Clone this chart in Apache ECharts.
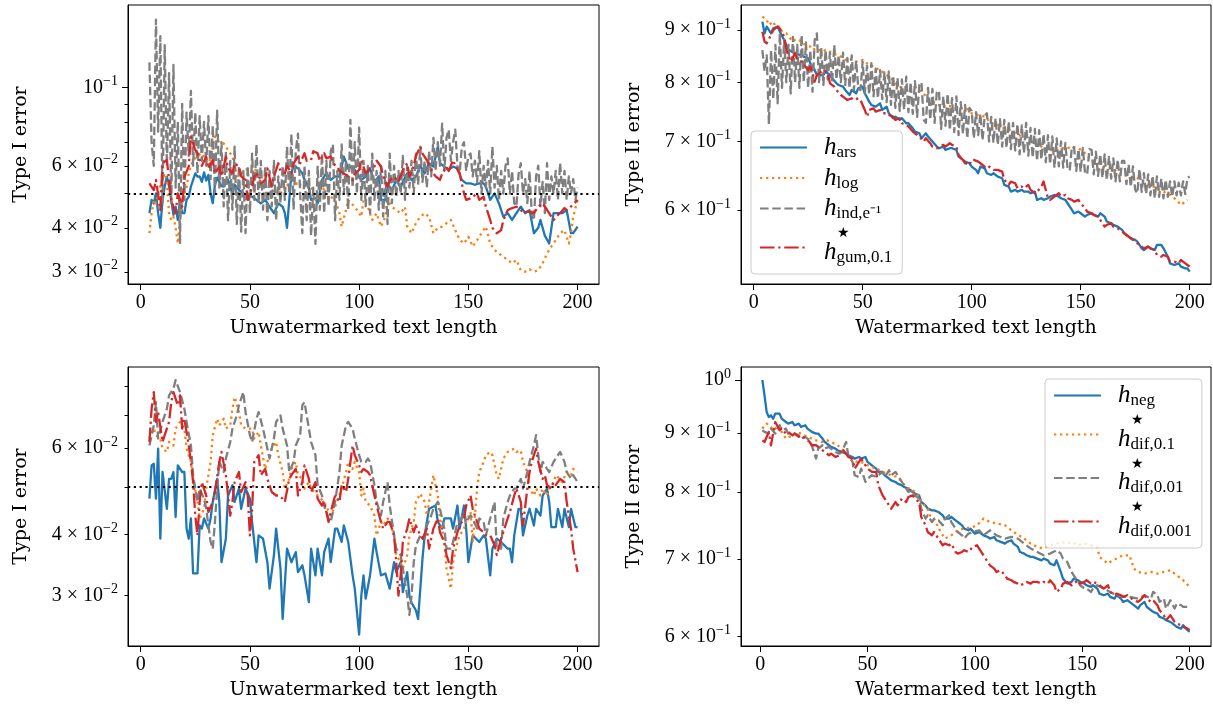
<!DOCTYPE html>
<html><head><meta charset="utf-8">
<script src="https://cdn.jsdelivr.net/npm/echarts@6/dist/echarts.min.js"></script>
<style>html,body{margin:0;padding:0;background:#fff}#c{width:1213px;height:708px}</style>
</head><body><div id="c"></div>
<script>
// ---------------- DATA ----------------
const X_TICKS = [0, 50, 100, 150, 200];
// top-left: Type I error, unwatermarked
const TL_YLABV = [0.03, 0.04, 0.06, 0.1];
const TL_YLAB = ['3 × 10^−2', '4 × 10^−2', '6 × 10^−2', '10^−1'];
const TL_MINOR = [0.03, 0.04, 0.05, 0.06, 0.07, 0.08, 0.09];
const TL_MAJOR = [0.1];
const TL_ARS = [[4,.0440],[5,.0480],[6,.0469],[7,.0501],[8,.0440],[9,.0400],[10,.0480],[11,.0524],[12,.0559],[13,.0524],[14,.0480],[15,.0435],[16,.0459],[17,.0421],[18,.0480],[19,.0440],[20,.0440],[21,.0480],[22,.0490],[23,.0524],[24,.0547],[25,.0571],[26,.0559],[27,.0560],[28,.0540],[29,.0575],[30,.0545],[31,.0565],[32,.0500],[33,.0470],[34,.0530],[35,.0555],[36,.0540],[37,.0525],[38,.0524],[40,.0547],[42,.0500],[43,.0530],[45,.0512],[47,.0501],[49,.0495],[51,.0490],[53,.0480],[55,.0469],[57,.0480],[59,.0459],[61,.0440],[63,.0469],[65,.0459],[66,.0440],[67,.0400],[69,.0571],[70,.0600],[72,.0590],[74,.0571],[75,.0547],[77,.0520],[78,.0480],[80,.0485],[81,.0469],[83,.0547],[85,.0571],[87,.0547],[89,.0560],[91,.0559],[93,.0637],[95,.0590],[97,.0597],[99,.0571],[101,.0547],[103,.0559],[105,.0590],[107,.0540],[109,.0560],[110,.0480],[112,.0480],[113,.0535],[115,.0510],[117,.0547],[119,.0520],[120,.0540],[122,.0571],[124,.0547],[126,.0560],[128,.0600],[130,.0571],[132,.0610],[134,.0597],[136,.0680],[137,.0610],[139,.0597],[141,.0584],[143,.0597],[145,.0590],[147,.0547],[149,.0535],[151,.0535],[153,.0530],[155,.0535],[157,.0535],[158,.0524],[160,.0480],[162,.0501],[164,.0469],[166,.0430],[168,.0440],[170,.0421],[172,.0440],[174,.0459],[176,.0440],[178,.0449],[180,.0386],[182,.0400],[183,.0421],[185,.0380],[187,.0361],[189,.0440],[191,.0440],[193,.0440],[195,.0449],[197,.0386],[198,.0386],[200,.0403]];
const TL_LOG = [[4,.0386],[5,.0440],[6,.0480],[7,.0469],[8,.0500],[9,.0530],[10,.0547],[11,.0571],[12,.0540],[13,.0440],[14,.0421],[15,.0430],[16,.0400],[17,.0361],[18,.0420],[19,.0480],[21,.0520],[22,.0571],[24,.0623],[26,.0640],[28,.0651],[30,.0620],[31,.0597],[33,.0680],[34,.0726],[36,.0700],[38,.0695],[40,.0665],[42,.0637],[44,.0560],[46,.0571],[48,.0585],[50,.0590],[52,.0597],[54,.0547],[56,.0540],[58,.0535],[60,.0520],[62,.0501],[64,.0505],[66,.0512],[68,.0540],[69,.0559],[71,.0540],[72,.0524],[74,.0535],[76,.0547],[78,.0520],[80,.0480],[82,.0510],[83,.0524],[85,.0500],[87,.0490],[89,.0480],[91,.0440],[92,.0403],[94,.0450],[95,.0480],[97,.0465],[98,.0459],[100,.0440],[101,.0430],[102,.0480],[104,.0459],[106,.0421],[108,.0440],[110,.0403],[112,.0430],[113,.0480],[115,.0459],[117,.0449],[119,.0440],[121,.0459],[122,.0403],[124,.0386],[126,.0412],[128,.0430],[130,.0440],[132,.0430],[134,.0386],[136,.0400],[138,.0403],[140,.0412],[142,.0421],[144,.0394],[146,.0370],[148,.0361],[150,.0377],[152,.0354],[154,.0369],[156,.0386],[158,.0403],[160,.0361],[162,.0346],[164,.0338],[166,.0331],[168,.0324],[170,.0317],[172,.0324],[174,.0303],[176,.0300],[178,.0305],[180,.0300],[182,.0303],[184,.0317],[186,.0338],[188,.0354],[190,.0369],[192,.0386],[194,.0394],[196,.0361],[197,.0386],[198,.0430],[200,.0480]];
const TL_IND_X0 = 4;
const TL_IND = [.118,.070,.060,.156,.075,.140,.047,.132,.060,.110,
.047,.116,.052,.080,.036,.090,.048,.085,.064,.098,
.060,.085,.057,.083,.062,.080,.060,.083,.055,.078,
.050,.086,.052,.070,.046,.066,.042,.062,.045,.068,
.041,.060,.039,.058,.0386,.060,.044,.065,.048,.069,
.047,.062,.045,.060,.042,.058,.046,.062,.042,.056,
.047,.060,.048,.068,.050,.074,.045,.066,.074,.050,
.0386,.060,.042,.058,.038,.052,.036,.060,.045,.065,
.044,.062,.046,.066,.069,.042,.058,.048,.069,.050,
.062,.045,.081,.052,.070,.050,.077,.048,.062,.046,
.060,.044,.065,.048,.058,.045,.060,.043,.058,.041,
.065,.047,.060,.049,.058,.050,.064,.048,.060,.052,
.062,.050,.065,.053,.068,.054,.062,.052,.066,.056,
.072,.058,.070,.060,.079,.058,.072,.076,.062,.070,
.076,.060,.057,.068,.070,.058,.064,.065,.056,.062,
.054,.066,.050,.060,.052,.062,.050,.068,.052,.060,
.048,.058,.050,.060,.063,.050,.058,.047,.046,.057,
.061,.050,.055,.047,.058,.044,.042,.056,.060,.046,
.054,.044,.061,.048,.056,.050,.058,.048,.061,.050,
.058,.048,.056,.050,.055,.048,.052];
const TL_GUM = [[4,.0535],[6,.0512],[7,.0547],[9,.0449],[10,.0610],[12,.0623],[14,.0480],[16,.0440],[17,.0501],[19,.0459],[20,.0559],[22,.0597],[23,.0726],[25,.0665],[26,.0651],[28,.0600],[30,.0637],[31,.0590],[33,.0623],[34,.0571],[36,.0597],[37,.0560],[39,.0637],[40,.0590],[42,.0571],[43,.0610],[45,.0597],[46,.0560],[48,.0547],[49,.0480],[51,.0524],[52,.0560],[54,.0571],[55,.0535],[57,.0547],[58,.0590],[60,.0524],[61,.0560],[63,.0610],[64,.0580],[66,.0571],[67,.0600],[69,.0571],[70,.0610],[72,.0637],[73,.0610],[75,.0651],[76,.0620],[78,.0623],[79,.0660],[81,.0651],[82,.0620],[84,.0651],[85,.0630],[87,.0637],[88,.0610],[90,.0597],[91,.0580],[93,.0571],[95,.0560],[97,.0547],[98,.0570],[100,.0584],[101,.0623],[103,.0571],[105,.0590],[107,.0597],[108,.0620],[110,.0597],[111,.0560],[113,.0524],[114,.0545],[116,.0559],[118,.0540],[120,.0584],[122,.0610],[123,.0559],[125,.0600],[126,.0640],[128,.0680],[129,.0650],[131,.0623],[132,.0600],[134,.0571],[135,.0560],[137,.0547],[138,.0570],[140,.0597],[141,.0580],[143,.0623],[144,.0600],[146,.0571],[148,.0501],[149,.0480],[151,.0485],[152,.0490],[154,.0500],[155,.0480],[157,.0490],[158,.0460],[160,.0421],[161,.0400],[163,.0386],[165,.0394],[166,.0420],[168,.0449],[170,.0455],[172,.0459],[174,.0450],[175,.0440],[177,.0445],[180,.0440],[182,.0460],[184,.0469],[186,.0450],[189,.0421],[191,.0435],[192,.0440],[194,.0455],[195,.0449],[197,.0460],[200,.0480]];

// top-right: Type II error, watermarked
const TR_YLABV = [0.6, 0.7, 0.8, 0.9];
const TR_YLAB = ['6 × 10^−1', '7 × 10^−1', '8 × 10^−1', '9 × 10^−1'];
const TR_MINOR = [0.6, 0.7, 0.8, 0.9];
const TR_MAJOR = [];
const TR_ARS = [[4,.9171],[5,.8932],[6,.9067],[8,.8932],[9,.9034],[11,.9067],[12,.8966],[14,.8800],[16,.8605],[19,.8540],[21,.8508],[23,.8476],[25,.8444],[26,.8349],[28,.8225],[29,.8132],[32,.8132],[33,.8194],[35,.8132],[36,.8071],[38,.7981],[39,.7951],[41,.7921],[42,.7862],[44,.7774],[45,.7862],[47,.7803],[48,.7891],[50,.7921],[51,.7803],[53,.7658],[54,.7601],[56,.7572],[58,.7629],[59,.7516],[61,.7572],[62,.7460],[64,.7376],[65,.7404],[67,.7349],[68,.7376],[70,.7294],[71,.7294],[73,.7212],[74,.7158],[76,.7131],[77,.7052],[79,.7131],[80,.7078],[82,.6999],[84,.6921],[85,.6895],[87,.6921],[88,.6869],[90,.6895],[91,.6895],[93,.6869],[94,.6766],[96,.6716],[97,.6690],[99,.6665],[100,.6615],[102,.6566],[103,.6517],[104,.6615],[106,.6590],[107,.6517],[109,.6492],[110,.6517],[112,.6468],[114,.6444],[115,.6348],[117,.6324],[118,.6253],[120,.6277],[121,.6253],[123,.6277],[124,.6253],[126,.6253],[127,.6230],[129,.6253],[130,.6137],[132,.6160],[133,.6137],[135,.6160],[136,.6183],[138,.6206],[140,.6183],[141,.6160],[143,.6137],[144,.6091],[146,.6000],[147,.5955],[149,.5977],[150,.5955],[152,.5911],[153,.5933],[155,.5955],[156,.5933],[158,.5911],[159,.5955],[161,.5911],[162,.5845],[164,.5823],[165,.5801],[167,.5779],[169,.5736],[170,.5693],[172,.5650],[173,.5629],[175,.5608],[176,.5587],[178,.5503],[179,.5482],[181,.5524],[182,.5503],[184,.5482],[185,.5545],[187,.5545],[188,.5503],[190,.5400],[191,.5320],[193,.5300],[195,.5320],[196,.5280],[198,.5260],[199,.5260],[200,.5221]];
const TR_LOG = [[4,.9275],[6,.9206],[7,.9102],[9,.9171],[10,.9067],[12,.9067],[13,.8966],[15,.8932],[16,.8866],[18,.8767],[19,.8800],[21,.8800],[22,.8735],[24,.8702],[26,.8670],[27,.8605],[29,.8637],[30,.8605],[32,.8572],[33,.8605],[35,.8572],[36,.8540],[38,.8508],[39,.8508],[41,.8444],[42,.8412],[44,.8444],[45,.8412],[47,.8381],[48,.8381],[50,.8412],[52,.8349],[53,.8318],[55,.8287],[56,.8256],[58,.8225],[59,.8194],[61,.8132],[62,.8102],[64,.8041],[65,.7981],[67,.7921],[68,.7891],[70,.7921],[71,.7891],[73,.7951],[74,.7921],[76,.7862],[78,.7803],[79,.7745],[81,.7687],[82,.7658],[84,.7629],[85,.7601],[87,.7572],[88,.7601],[91,.7572],[94,.7544],[97,.7544],[99,.7516],[100,.7460],[103,.7432],[106,.7404],[109,.7294],[112,.7267],[115,.7212],[117,.7185],[120,.7131],[123,.7078],[126,.7025],[129,.6973],[132,.6921],[135,.6843],[138,.6895],[141,.6895],[144,.6895],[146,.6921],[149,.6895],[152,.6817],[155,.6716],[158,.6665],[161,.6615],[164,.6590],[167,.6541],[170,.6492],[173,.6468],[176,.6444],[179,.6396],[182,.6348],[185,.6300],[188,.6253],[191,.6206],[194,.6137],[196,.6068],[197,.6091],[199,.6137]];
const TR_IND_X0 = 4;
const TR_IND = [.860,.820,.850,.728,.860,.770,.870,.763,.893,.790,
.880,.800,.870,.780,.886,.800,.870,.790,.890,.800,
.875,.790,.860,.783,.880,.893,.800,.865,.795,.860,
.805,.855,.800,.870,.805,.850,.800,.855,.795,.845,
.790,.850,.786,.840,.790,.786,.838,.780,.830,.778,
.835,.775,.825,.772,.822,.770,.818,.765,.820,.760,
.812,.755,.808,.750,.805,.752,.810,.748,.800,.745,
.802,.740,.795,.800,.735,.730,.790,.735,.788,.730,
.782,.785,.720,.775,.725,.780,.718,.772,.715,.775,
.710,.765,.712,.760,.705,.755,.750,.705,.748,.710,
.745,.702,.742,.746,.700,.740,.698,.738,.695,.736,
.692,.735,.690,.732,.688,.730,.686,.728,.680,.726,
.682,.730,.678,.722,.675,.720,.670,.718,.672,.712,
.668,.710,.665,.708,.660,.705,.662,.700,.660,.698,
.658,.656,.692,.690,.655,.688,.654,.690,.652,.650,
.688,.687,.650,.684,.648,.680,.645,.680,.642,.676,
.644,.674,.640,.672,.640,.670,.670,.636,.665,.632,
.662,.628,.623,.658,.625,.652,.622,.650,.620,.648,
.616,.647,.618,.644,.616,.642,.618,.640,.618,.640,
.620,.638,.620,.640,.622,.645,.647];
const TR_GUM = [[4,.8966],[5,.8767],[6,.8735],[8,.8899],[9,.9000],[11,.9067],[12,.9034],[14,.8866],[15,.8605],[17,.8381],[19,.8540],[20,.8412],[22,.8381],[23,.8318],[25,.8225],[26,.8287],[28,.8011],[29,.8132],[31,.8194],[32,.8225],[34,.8163],[35,.7981],[37,.7921],[38,.7862],[40,.7774],[42,.7716],[43,.7687],[45,.7716],[46,.7687],[48,.7716],[49,.7687],[51,.7516],[52,.7404],[53,.7516],[55,.7544],[56,.7488],[58,.7516],[59,.7460],[61,.7460],[62,.7432],[64,.7404],[65,.7349],[67,.7376],[68,.7294],[70,.7267],[71,.7240],[73,.7158],[74,.7131],[76,.7078],[78,.6999],[79,.7052],[81,.6973],[82,.6921],[84,.6895],[85,.6921],[87,.6947],[88,.6921],[90,.6973],[91,.6947],[93,.6921],[94,.6792],[96,.6716],[97,.6665],[99,.6640],[100,.6716],[101,.6716],[103,.6690],[104,.6665],[106,.6615],[107,.6640],[109,.6590],[110,.6566],[112,.6566],[114,.6541],[115,.6420],[117,.6348],[118,.6396],[120,.6372],[121,.6300],[123,.6324],[124,.6300],[126,.6348],[127,.6277],[129,.6230],[130,.6253],[132,.6324],[133,.6396],[135,.6160],[136,.6137],[138,.6183],[140,.6230],[141,.6183],[143,.6206],[144,.6160],[146,.6137],[147,.6114],[149,.6137],[150,.6091],[152,.6023],[153,.5977],[155,.5955],[156,.5933],[158,.5911],[159,.5867],[161,.5779],[162,.5801],[164,.5823],[165,.5779],[167,.5757],[169,.5714],[170,.5693],[172,.5650],[173,.5629],[175,.5587],[176,.5566],[178,.5524],[179,.5503],[181,.5524],[182,.5503],[184,.5482],[185,.5421],[187,.5400],[188,.5421],[190,.5400],[191,.5340],[193,.5340],[195,.5320],[196,.5360],[198,.5320],[199,.5300],[200,.5280]];

// bottom-left: Type I error, unwatermarked
const BL_YLABV = [0.03, 0.04, 0.06];
const BL_YLAB = ['3 × 10^−2', '4 × 10^−2', '6 × 10^−2'];
const BL_MINOR = [0.03, 0.04, 0.05, 0.06, 0.07, 0.08];
const BL_MAJOR = [];
const BL_NEG = [[4,.0473],[5,.0553],[6,.0557],[7,.0473],[8,.0598],[9,.0392],[10,.0536],[12,.0451],[13,.0519],[14,.0519],[15,.0536],[16,.0434],[17,.0553],[19,.0536],[20,.0536],[21,.0411],[22,.0392],[23,.0431],[24,.0333],[26,.0333],[27,.0417],[28,.0411],[29,.0431],[31,.0411],[32,.0431],[33,.0466],[35,.0519],[36,.0466],[37,.0351],[39,.0392],[40,.0480],[42,.0504],[43,.0466],[45,.0496],[46,.0451],[48,.0496],[50,.0473],[51,.0424],[53,.0351],[54,.0398],[56,.0392],[58,.0351],[59,.0310],[61,.0363],[62,.0411],[64,.0341],[65,.0269],[67,.0374],[69,.0351],[71,.0368],[72,.0335],[74,.0346],[75,.0330],[77,.0291],[78,.0374],[80,.0330],[81,.0374],[83,.0330],[84,.0368],[86,.0392],[87,.0351],[89,.0411],[90,.0411],[92,.0386],[93,.0417],[95,.0386],[97,.0330],[98,.0310],[100,.0250],[101,.0300],[102,.0330],[103,.0296],[105,.0330],[107,.0392],[108,.0368],[110,.0330],[112,.0333],[114,.0310],[116,.0351],[117,.0335],[119,.0351],[120,.0305],[122,.0335],[123,.0300],[124,.0290],[126,.0280],[127,.0269],[129,.0357],[130,.0398],[132,.0451],[135,.0458],[136,.0424],[138,.0411],[139,.0431],[142,.0431],[143,.0411],[145,.0458],[146,.0411],[148,.0458],[149,.0411],[150,.0351],[152,.0398],[155,.0386],[157,.0398],[158,.0392],[160,.0330],[161,.0374],[163,.0392],[165,.0386],[168,.0374],[169,.0374],[170,.0351],[171,.0398],[173,.0451],[174,.0451],[175,.0398],[177,.0437],[178,.0451],[180,.0417],[181,.0451],[183,.0437],[184,.0480],[186,.0496],[187,.0466],[188,.0414],[190,.0414],[191,.0451],[193,.0414],[194,.0451],[196,.0414],[197,.0451],[199,.0414],[200,.0414]];
const BL_DIF1 = [[4,.0627],[6,.0657],[7,.0637],[9,.0627],[10,.0598],[12,.0589],[13,.0617],[15,.0607],[16,.0657],[18,.0678],[20,.0657],[21,.0598],[23,.0562],[24,.0519],[26,.0466],[27,.0431],[29,.0451],[30,.0496],[32,.0562],[33,.0637],[35,.0688],[36,.0667],[38,.0688],[39,.0657],[41,.0667],[42,.0721],[43,.0762],[45,.0710],[46,.0667],[48,.0657],[49,.0657],[51,.0657],[52,.0627],[54,.0647],[55,.0607],[57,.0544],[58,.0562],[60,.0598],[62,.0617],[63,.0580],[65,.0536],[66,.0496],[68,.0519],[69,.0544],[71,.0562],[72,.0528],[74,.0519],[75,.0496],[77,.0511],[78,.0496],[81,.0480],[84,.0466],[87,.0437],[90,.0466],[92,.0496],[94,.0536],[95,.0562],[97,.0544],[98,.0562],[100,.0536],[101,.0480],[102,.0496],[103,.0466],[105,.0458],[107,.0437],[108,.0398],[110,.0424],[111,.0417],[113,.0431],[114,.0424],[116,.0398],[117,.0363],[119,.0351],[120,.0341],[122,.0363],[123,.0398],[125,.0424],[126,.0466],[128,.0484],[130,.0466],[131,.0437],[133,.0496],[134,.0528],[136,.0480],[137,.0431],[139,.0386],[140,.0341],[142,.0310],[143,.0351],[145,.0386],[146,.0398],[148,.0411],[149,.0424],[151,.0444],[152,.0386],[154,.0496],[155,.0536],[157,.0562],[158,.0580],[160,.0589],[161,.0580],[163,.0528],[164,.0519],[166,.0571],[168,.0589],[169,.0593],[171,.0598],[172,.0589],[174,.0593],[175,.0562],[177,.0536],[178,.0496],[180,.0480],[181,.0496],[183,.0480],[184,.0496],[186,.0480],[187,.0496],[189,.0511],[190,.0528],[192,.0519],[193,.0511],[195,.0536],[197,.0528],[198,.0544],[200,.0536]];
const BL_DIF2 = [[4,.0607],[6,.0667],[7,.0744],[8,.0627],[10,.0678],[12,.0721],[13,.0768],[15,.0793],[16,.0825],[18,.0780],[20,.0721],[21,.0678],[23,.0607],[24,.0528],[26,.0466],[27,.0496],[29,.0473],[30,.0451],[32,.0386],[33,.0374],[34,.0424],[35,.0496],[36,.0562],[38,.0536],[39,.0571],[41,.0617],[42,.0657],[44,.0699],[45,.0733],[47,.0780],[48,.0710],[50,.0637],[51,.0617],[53,.0688],[54,.0710],[56,.0657],[58,.0598],[59,.0571],[61,.0627],[62,.0678],[64,.0699],[65,.0657],[67,.0607],[68,.0536],[70,.0562],[71,.0607],[73,.0637],[74,.0733],[75,.0744],[77,.0657],[78,.0617],[80,.0580],[81,.0504],[83,.0480],[84,.0458],[86,.0431],[87,.0424],[89,.0466],[91,.0536],[92,.0607],[94,.0667],[95,.0678],[97,.0657],[98,.0627],[100,.0580],[101,.0562],[103,.0562],[104,.0571],[105,.0562],[107,.0504],[108,.0466],[110,.0437],[111,.0466],[113,.0511],[114,.0458],[116,.0398],[117,.0374],[119,.0363],[120,.0341],[122,.0300],[123,.0274],[124,.0300],[125,.0351],[126,.0380],[128,.0398],[130,.0392],[131,.0417],[133,.0437],[134,.0451],[136,.0466],[137,.0451],[139,.0411],[140,.0374],[142,.0374],[143,.0386],[145,.0424],[146,.0424],[148,.0444],[149,.0424],[151,.0437],[152,.0431],[154,.0411],[155,.0431],[157,.0424],[158,.0398],[160,.0431],[162,.0466],[163,.0374],[165,.0374],[166,.0431],[168,.0466],[169,.0480],[171,.0496],[172,.0496],[174,.0519],[175,.0496],[177,.0536],[178,.0562],[180,.0607],[181,.0637],[182,.0580],[183,.0536],[184,.0562],[186,.0544],[187,.0536],[189,.0562],[190,.0571],[192,.0589],[194,.0562],[195,.0536],[197,.0519],[198,.0528],[200,.0511]];
const BL_DIF3 = [[4,.0617],[5,.0721],[6,.0780],[7,.0678],[8,.0710],[10,.0617],[11,.0637],[13,.0678],[14,.0744],[15,.0780],[17,.0733],[18,.0768],[19,.0657],[20,.0688],[22,.0607],[23,.0562],[24,.0511],[25,.0437],[26,.0398],[27,.0466],[28,.0511],[30,.0480],[31,.0444],[33,.0466],[34,.0488],[36,.0562],[37,.0589],[39,.0528],[40,.0480],[41,.0437],[42,.0466],[43,.0511],[45,.0536],[46,.0488],[48,.0511],[49,.0480],[50,.0398],[51,.0451],[52,.0562],[54,.0580],[55,.0528],[57,.0544],[58,.0519],[60,.0488],[62,.0480],[63,.0480],[65,.0473],[66,.0466],[68,.0519],[69,.0528],[71,.0544],[72,.0480],[74,.0511],[75,.0553],[77,.0519],[78,.0488],[80,.0511],[81,.0473],[83,.0458],[84,.0466],[86,.0424],[87,.0444],[89,.0480],[91,.0466],[92,.0504],[94,.0488],[95,.0519],[97,.0607],[98,.0580],[100,.0553],[101,.0536],[102,.0544],[104,.0536],[105,.0528],[107,.0480],[108,.0458],[110,.0424],[111,.0411],[113,.0424],[114,.0424],[116,.0398],[117,.0351],[118,.0300],[119,.0330],[120,.0386],[122,.0411],[123,.0431],[125,.0404],[126,.0417],[128,.0398],[129,.0392],[131,.0411],[132,.0374],[134,.0411],[136,.0431],[137,.0404],[139,.0386],[140,.0363],[142,.0341],[143,.0374],[145,.0404],[146,.0417],[148,.0431],[149,.0458],[151,.0480],[152,.0451],[154,.0424],[155,.0411],[157,.0404],[158,.0398],[160,.0398],[162,.0380],[163,.0363],[165,.0392],[166,.0404],[168,.0431],[169,.0444],[171,.0480],[172,.0496],[174,.0466],[175,.0417],[177,.0496],[178,.0536],[179,.0562],[181,.0598],[182,.0562],[184,.0519],[185,.0528],[186,.0504],[188,.0496],[189,.0511],[190,.0504],[192,.0519],[194,.0511],[195,.0466],[197,.0411],[198,.0374],[200,.0335]];

// bottom-right: Type II error, watermarked
const BR_YLABV = [0.6, 0.7, 0.8, 0.9, 1];
const BR_YLAB = ['6 × 10^−1', '7 × 10^−1', '8 × 10^−1', '9 × 10^−1', '10^0'];
const BR_MINOR = [0.6, 0.7, 0.8, 0.9];
const BR_MAJOR = [1];
const BR_NEG = [[1,1.000],[2,.9700],[3,.9383],[4,.9290],[5,.9321],[6,.9259],[7,.9352],[9,.9352],[10,.9259],[12,.9198],[13,.9168],[15,.9198],[16,.9138],[18,.9168],[19,.9108],[21,.9138],[22,.9078],[24,.9018],[26,.8988],[27,.8988],[29,.8899],[30,.8840],[32,.8782],[33,.8753],[35,.8724],[36,.8695],[38,.8666],[40,.8637],[41,.8609],[43,.8580],[44,.8552],[46,.8580],[47,.8552],[49,.8580],[50,.8495],[52,.8439],[54,.8383],[55,.8328],[57,.8328],[58,.8273],[60,.8218],[61,.8190],[63,.8163],[64,.8136],[66,.8109],[67,.8082],[69,.8056],[71,.8002],[72,.7976],[74,.7949],[75,.7844],[77,.7793],[78,.7741],[80,.7715],[81,.7715],[83,.7690],[85,.7639],[86,.7589],[88,.7589],[89,.7614],[91,.7564],[92,.7538],[94,.7489],[95,.7439],[97,.7415],[98,.7439],[100,.7366],[102,.7390],[104,.7341],[106,.7317],[107,.7293],[109,.7317],[110,.7269],[112,.7245],[114,.7221],[115,.7245],[117,.7269],[118,.7221],[120,.7174],[121,.7102],[123,.7079],[124,.7055],[126,.7032],[127,.7032],[129,.7009],[131,.6985],[132,.7009],[134,.6985],[135,.6939],[137,.6916],[138,.6985],[140,.6825],[141,.6735],[143,.6669],[145,.6691],[146,.6735],[148,.6713],[149,.6691],[151,.6669],[152,.6647],[154,.6625],[155,.6647],[157,.6603],[158,.6537],[160,.6516],[162,.6537],[163,.6494],[165,.6473],[166,.6516],[168,.6473],[169,.6430],[171,.6452],[172,.6430],[174,.6388],[176,.6345],[177,.6388],[179,.6430],[180,.6367],[182,.6324],[183,.6304],[185,.6283],[186,.6241],[188,.6221],[189,.6200],[191,.6180],[193,.6139],[194,.6118],[196,.6098],[197,.6139],[199,.6078],[200,.6058]];
const BR_DIF1 = [[1,.9078],[2,.9138],[3,.9168],[5,.9108],[6,.9048],[9,.9138],[10,.9018],[12,.8899],[15,.8958],[17,.9018],[19,.8988],[22,.8929],[24,.8899],[26,.8869],[29,.8840],[31,.8869],[33,.8840],[36,.8782],[38,.8724],[40,.8637],[43,.8552],[45,.8495],[47,.8495],[50,.8439],[52,.8411],[54,.8383],[57,.8328],[59,.8300],[61,.8273],[64,.8245],[66,.8163],[68,.8082],[71,.8029],[73,.7976],[75,.7844],[78,.7741],[79,.7639],[81,.7589],[84,.7390],[86,.7293],[89,.7341],[92,.7415],[95,.7439],[99,.7464],[101,.7489],[104,.7589],[107,.7538],[114,.7489],[118,.7390],[123,.7293],[126,.7221],[129,.7174],[132,.7150],[135,.7197],[138,.7221],[140,.7245],[143,.7221],[145,.7245],[148,.7197],[151,.7221],[154,.7197],[157,.7174],[158,.7032],[160,.6985],[162,.6939],[163,.6962],[166,.7009],[169,.7055],[172,.7055],[174,.6871],[176,.6825],[179,.6803],[182,.6825],[185,.6803],[188,.6825],[191,.6848],[194,.6780],[197,.6713],[200,.6625]];
const BR_DIF2 = [[1,.9048],[2,.9018],[4,.8988],[5,.9078],[7,.8988],[9,.9138],[10,.9048],[12,.9078],[13,.8988],[15,.8958],[16,.8988],[18,.8958],[19,.8899],[21,.8929],[23,.8869],[24,.8782],[26,.8552],[27,.8724],[29,.8782],[30,.8724],[32,.8753],[33,.8724],[35,.8666],[37,.8637],[38,.8666],[40,.8840],[41,.8609],[43,.8495],[44,.8273],[46,.8245],[47,.8383],[49,.8163],[50,.8218],[52,.8273],[54,.8245],[55,.8273],[57,.8328],[58,.8245],[60,.8355],[61,.8273],[63,.8328],[64,.8273],[66,.8163],[68,.8056],[69,.8002],[71,.8029],[72,.7949],[74,.7897],[75,.7741],[77,.7589],[78,.7639],[80,.7538],[81,.7589],[83,.7564],[85,.7489],[86,.7589],[88,.7639],[89,.7538],[91,.7439],[92,.7390],[94,.7341],[95,.7293],[97,.7366],[99,.7390],[102,.7415],[104,.7341],[107,.7415],[110,.7341],[114,.7293],[117,.7317],[120,.7293],[123,.7221],[126,.7150],[129,.7102],[132,.7055],[135,.7079],[138,.7126],[140,.7079],[141,.7009],[143,.6962],[145,.6825],[146,.6780],[148,.6691],[149,.6647],[151,.6603],[152,.6603],[154,.6559],[155,.6603],[157,.6647],[160,.6603],[163,.6559],[166,.6516],[169,.6494],[172,.6494],[176,.6473],[179,.6516],[182,.6473],[183,.6559],[185,.6516],[186,.6430],[188,.6473],[189,.6345],[191,.6452],[193,.6345],[194,.6409],[196,.6388],[197,.6367],[200,.6367]];
const BR_DIF3 = [[1,.8869],[2,.8840],[4,.9018],[5,.8782],[7,.9198],[9,.9048],[10,.9078],[12,.8988],[13,.9018],[15,.8958],[16,.8988],[18,.8929],[19,.8958],[21,.8899],[23,.8840],[24,.8782],[26,.8782],[27,.8753],[29,.8695],[30,.8666],[32,.8609],[33,.8637],[35,.8580],[37,.8609],[38,.8724],[40,.8637],[41,.8580],[43,.8552],[44,.8383],[46,.8495],[47,.8552],[49,.8439],[50,.8383],[52,.8328],[54,.8328],[55,.8109],[57,.7949],[58,.7897],[60,.7793],[61,.7741],[63,.7844],[64,.7793],[66,.7897],[68,.7844],[69,.7923],[71,.7949],[72,.7897],[74,.7844],[75,.7614],[77,.7489],[78,.7390],[80,.7341],[81,.7390],[83,.7293],[85,.7197],[86,.7221],[88,.7197],[89,.7221],[91,.7102],[92,.7079],[94,.7102],[95,.7126],[97,.7102],[99,.7174],[101,.7197],[104,.7055],[107,.6916],[109,.6871],[110,.6825],[112,.6848],[114,.6780],[115,.6735],[117,.6713],[118,.6691],[120,.6669],[121,.6647],[123,.6669],[124,.6691],[126,.6669],[127,.6691],[129,.6691],[131,.6669],[132,.6691],[134,.6669],[135,.6713],[137,.6647],[138,.6559],[140,.6603],[141,.6669],[143,.6691],[145,.6647],[146,.6669],[148,.6713],[149,.6669],[151,.6691],[152,.6713],[154,.6669],[155,.6691],[157,.6669],[158,.6647],[160,.6603],[162,.6647],[163,.6559],[165,.6516],[166,.6537],[168,.6516],[169,.6494],[171,.6516],[172,.6494],[174,.6452],[176,.6430],[177,.6452],[179,.6516],[180,.6473],[182,.6430],[183,.6452],[185,.6388],[186,.6324],[188,.6262],[189,.6200],[191,.6262],[193,.6180],[194,.6159],[196,.6139],[197,.6118],[199,.6098],[200,.6078]];

const ALPHA_LEVEL = 0.05;

// ---------------- STYLE / LAYOUT ----------------
const L10 = Math.log10;
const TICK_FONT = 'Liberation Serif';
const TITLE_FONT = 'DejaVu Serif';
const COL = { blue: '#1f77b4', orange: '#ff7f0e', gray: '#7f7f7f', red: '#d62728' };
const DASH = { solid: 'solid', dotted: [2.3, 3.7], dashed: [8.5, 3.7], dashdot: [14.5, 3.7, 2.3, 3.7] };

const panels = [
  { grid: { left: 128, top: 5, width: 471, height: 279 }, xr: [-5.8, 209.8], yr: [0.02769, 0.17177],
    xname: 'Unwatermarked text length', yname: 'Type I error', labv: TL_YLABV, lab: TL_YLAB, minor: TL_MINOR, major: TL_MAJOR },
  { grid: { left: 741, top: 5, width: 470, height: 279 }, xr: [-5.8, 209.8], yr: [0.50778, 0.95210],
    xname: 'Watermarked text length', yname: 'Type II error', labv: TR_YLABV, lab: TR_YLAB, minor: TR_MINOR, major: TR_MAJOR },
  { grid: { left: 128, top: 367, width: 471, height: 279 }, xr: [-5.8, 209.8], yr: [0.02369, 0.08773],
    xname: 'Unwatermarked text length', yname: 'Type I error', labv: BL_YLABV, lab: BL_YLAB, minor: BL_MINOR, major: BL_MAJOR },
  { grid: { left: 741, top: 367, width: 470, height: 279 }, xr: [-8.95, 209.95], yr: [0.58899, 1.02621],
    xname: 'Watermarked text length', yname: 'Type II error', labv: BR_YLABV, lab: BR_YLAB, minor: BR_MINOR, major: BR_MAJOR }
];

const RICH_TICK = {
  b: { fontFamily: TICK_FONT, fontSize: 20, color: '#000', lineHeight: 26 },
  s: { fontFamily: TICK_FONT, fontSize: 14, color: '#000', lineHeight: 15, verticalAlign: 'top' }
};
function fmtY(p, v) {
  let best = 0, bd = Infinity;
  p.labv.forEach((lv, i) => { const d = Math.abs(L10(lv) - v); if (d < bd) { bd = d; best = i; } });
  const parts = p.lab[best].split('^');
  return '{b|' + parts[0] + '}{s|' + parts[1] + '}';
}

const grids = panels.map(p => Object.assign({ show: true, borderColor: '#000', borderWidth: 1, containLabel: false }, p.grid));
const xAxes = panels.map((p, gi) => ({
  type: 'value', gridIndex: gi, min: p.xr[0], max: p.xr[1], position: 'bottom',
  name: p.xname, nameLocation: 'middle', nameGap: 35,
  nameTextStyle: { fontFamily: TITLE_FONT, fontSize: 19, color: '#000' },
  axisLine: { show: true, onZero: false, lineStyle: { color: '#000', width: 1 } },
  axisTick: { show: true, length: 6, lineStyle: { color: '#000', width: 1 }, customValues: X_TICKS },
  axisLabel: { show: true, margin: 9, customValues: X_TICKS, fontFamily: TICK_FONT, fontSize: 20, color: '#000' },
  splitLine: { show: false }
}));
const yAxes = [];
panels.forEach((p, gi) => {
  yAxes.push({
    type: 'value', gridIndex: gi, min: L10(p.yr[0]), max: L10(p.yr[1]), position: 'left',
    name: p.yname, nameLocation: 'middle', nameRotate: 90, nameGap: 97,
    nameTextStyle: { fontFamily: TITLE_FONT, fontSize: 19, color: '#000' },
    axisLine: { show: true, onZero: false, lineStyle: { color: '#000', width: 1 } },
    axisTick: { show: true, length: 3.5, lineStyle: { color: '#000', width: 1 }, customValues: p.minor.map(L10) },
    axisLabel: { show: true, margin: 10, customValues: p.labv.map(L10), formatter: v => fmtY(p, v), rich: RICH_TICK },
    splitLine: { show: false }
  });
  yAxes.push({
    type: 'value', gridIndex: gi, min: L10(p.yr[0]), max: L10(p.yr[1]), position: 'left',
    axisLine: { show: false, onZero: false },
    axisTick: { show: p.major.length > 0, length: 6, lineStyle: { color: '#000', width: 1 }, customValues: p.major.length ? p.major.map(L10) : [L10(p.yr[0])] },
    axisLabel: { show: false }, splitLine: { show: false }
  });
});

function seq(x0, vals) { return vals.map((v, i) => [x0 + i, v]); }
function mk(name, data, gi, color, dash, z, extra) {
  return Object.assign({
    name: name, type: 'line', xAxisIndex: gi, yAxisIndex: gi * 2,
    data: data.map(p => [p[0], L10(p[1])]),
    symbol: 'none', showSymbol: false, silent: true, animation: false, z: z,
    lineStyle: { color: color, width: 2.3, type: dash, cap: 'butt', join: 'round' },
    itemStyle: { color: color }
  }, extra || {});
}
const hline = {
  silent: true, symbol: ['none', 'none'], label: { show: false }, animation: false,
  lineStyle: { color: '#000', width: 2.2, type: [2.2, 3.6], cap: 'butt' },
  data: [{ yAxis: L10(ALPHA_LEVEL) }]
};

const series = [
  mk('h_ars', TL_ARS, 0, COL.blue, DASH.solid, 2),
  mk('h_log', TL_LOG, 0, COL.orange, DASH.dotted, 3),
  mk('h_ind', seq(TL_IND_X0, TL_IND), 0, COL.gray, DASH.dashed, 4),
  mk('h_gum', TL_GUM, 0, COL.red, DASH.dashdot, 5, { markLine: hline }),
  mk('h_ars', TR_ARS, 1, COL.blue, DASH.solid, 2),
  mk('h_log', TR_LOG, 1, COL.orange, DASH.dotted, 3),
  mk('h_ind', seq(TR_IND_X0, TR_IND), 1, COL.gray, DASH.dashed, 4),
  mk('h_gum', TR_GUM, 1, COL.red, DASH.dashdot, 5),
  mk('h_neg', BL_NEG, 2, COL.blue, DASH.solid, 2),
  mk('h_dif1', BL_DIF1, 2, COL.orange, DASH.dotted, 3),
  mk('h_dif2', BL_DIF2, 2, COL.gray, DASH.dashed, 4),
  mk('h_dif3', BL_DIF3, 2, COL.red, DASH.dashdot, 5, { markLine: hline }),
  mk('h_neg', BR_NEG, 3, COL.blue, DASH.solid, 2),
  mk('h_dif1', BR_DIF1, 3, COL.orange, DASH.dotted, 3),
  mk('h_dif2', BR_DIF2, 3, COL.gray, DASH.dashed, 4),
  mk('h_dif3', BR_DIF3, 3, COL.red, DASH.dashdot, 5)
];

const LEGEND_TXT = {
  h_ars: '{h|h}{sb|ars}',
  h_log: '{h|h}{sb|log}',
  h_ind: '{h|h}{sb|ind,e⁻¹}',
  h_gum: '{st|★}\n{h|h}{sb|gum,0.1}',
  h_neg: '{h|h}{sb|neg}',
  h_dif1: '{st|★}\n{h|h}{sb|dif,0.1}',
  h_dif2: '{st|★}\n{h|h}{sb|dif,0.01}',
  h_dif3: '{st|★}\n{h|h}{sb|dif,0.001}'
};
const LEGEND_RICH = {
  h: { fontFamily: TICK_FONT, fontStyle: 'italic', fontSize: 25, lineHeight: 28, color: '#000', padding: [0, 0, 0, 12] },
  sb: { fontFamily: TICK_FONT, fontSize: 17, lineHeight: 17, color: '#000', verticalAlign: 'bottom' },
  st: { fontFamily: 'DejaVu Sans', fontSize: 14, lineHeight: 9, color: '#000', padding: [0, 0, 0, 25] }
};
function legendCfg(names, left, top) {
  return {
    data: names, orient: 'vertical', left: left, top: top, itemWidth: 47, itemHeight: 14, itemGap: 4,
    padding: [4, 10, 8, 8], backgroundColor: 'rgba(255,255,255,0.8)', borderColor: '#cccccc', borderWidth: 1, borderRadius: 4,
    selectedMode: false, formatter: n => LEGEND_TXT[n], textStyle: { color: '#000', rich: LEGEND_RICH },
    itemStyle: { opacity: 0, color: 'rgba(0,0,0,0)', borderWidth: 0 }
  };
}

const chart = echarts.init(document.getElementById('c'), null, { renderer: 'canvas' });
chart.setOption({
  animation: false,
  backgroundColor: '#ffffff',
  grid: grids,
  xAxis: xAxes,
  yAxis: yAxes,
  legend: [
    legendCfg(['h_ars', 'h_log', 'h_ind', 'h_gum'], 751, 131),
    legendCfg(['h_neg', 'h_dif1', 'h_dif2', 'h_dif3'], 1045, 379)
  ],
  series: series
});
</script>
</body></html>
